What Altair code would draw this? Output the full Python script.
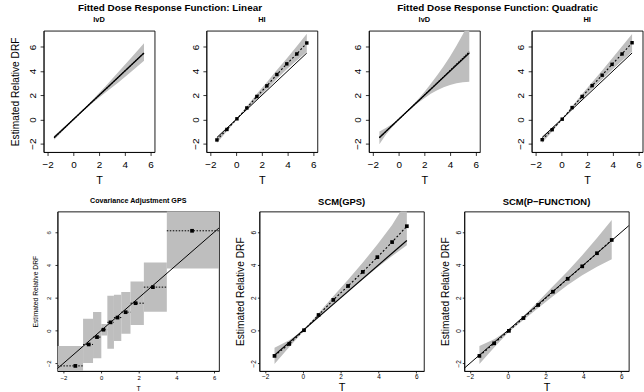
import altair as alt
import pandas as pd

FONT = "Liberation Sans"
GRAY = "#bebebe"
TICKS = [-2, 0, 2, 4, 6]

# ---------------- data ----------------
true_T = [-1.5, 5.5]
true_y = [-1.5, 5.5]
ab_T = [-3.0, 7.0]
ab_y = [-3.0, 7.0]

lin_ivd_T = [-1.5, -0.5, 0.5, 1.5, 2.5, 3.5, 4.5, 5.5]
lin_ivd_est = [-1.52, -0.51, 0.5, 1.5, 2.49, 3.49, 4.5, 5.5]
lin_ivd_lo = [-1.68, -0.6, 0.45, 1.38, 2.22, 3.05, 3.95, 4.85]
lin_ivd_hi = [-1.35, -0.42, 0.55, 1.62, 2.75, 3.92, 5.1, 6.3]

grid_T = [-1.5, -0.72, 0.06, 0.83, 1.61, 2.39, 3.17, 3.94, 4.72, 5.5]

lin_hi_est = [-1.7, -0.83, 0.05, 0.95, 1.9, 2.78, 3.72, 4.6, 5.42, 6.33]
lin_hi_lo = [-1.95, -0.98, 0.0, 0.82, 1.68, 2.5, 3.35, 4.15, 4.88, 5.6]
lin_hi_hi = [-1.45, -0.7, 0.1, 1.08, 2.12, 3.08, 4.1, 5.05, 6.05, 7.1]

quad_ivd_T = [-1.5, -1.0, -0.5, 0.0, 0.5, 1.0, 1.5, 2.0, 2.5, 3.0, 3.5, 4.0, 4.5, 5.0, 5.5]
quad_ivd_est = [-1.52, -1.0, -0.5, 0.0, 0.5, 1.0, 1.5, 2.0, 2.51, 3.02, 3.53, 4.05, 4.57, 5.08, 5.6]
quad_ivd_lo = [-2.05, -1.28, -0.62, -0.05, 0.46, 0.92, 1.35, 1.75, 2.12, 2.42, 2.67, 2.86, 3.0, 3.08, 3.12]
quad_ivd_hi = [-1.0, -0.72, -0.38, 0.05, 0.54, 1.08, 1.65, 2.28, 2.95, 3.65, 4.4, 5.2, 6.1, 7.05, 8.1]

quad_hi_est = [-1.68, -0.85, 0.02, 0.98, 1.9, 2.8, 3.66, 4.56, 5.42, 6.35]
quad_hi_lo = [-1.95, -1.0, -0.03, 0.86, 1.7, 2.52, 3.3, 4.1, 4.85, 5.6]
quad_hi_hi = [-1.4, -0.68, 0.08, 1.1, 2.1, 3.08, 4.05, 5.05, 6.05, 7.08]

ca_bin_lo = [-2.32, -0.96, -0.43, 0.01, 0.33, 0.68, 1.07, 1.56, 2.27, 3.49]
ca_bin_hi = [-0.96, -0.43, 0.01, 0.33, 0.68, 1.07, 1.56, 2.27, 3.49, 6.4]
ca_ci_lo = [-2.6, -1.98, -1.7, -0.3, -1.12, -0.64, -0.2, 0.34, 1.15, 3.79]
ca_ci_hi = [-0.95, 0.72, 1.13, 0.4, 2.12, 2.18, 2.36, 3.0, 4.16, 7.5]
ca_pt_T = [-1.37, -0.66, -0.22, 0.12, 0.5, 0.87, 1.3, 1.83, 2.75, 4.83]
ca_pt_y = [-2.16, -0.85, -0.4, 0.05, 0.5, 0.79, 1.12, 1.67, 2.65, 6.09]

scm_gps_est = [-1.55, -0.82, 0.02, 0.95, 1.87, 2.72, 3.58, 4.48, 5.4, 6.37]
scm_gps_lo = [-2.05, -1.0, -0.02, 0.85, 1.65, 2.4, 3.12, 3.85, 4.55, 5.2]
scm_gps_hi = [-1.05, -0.6, 0.06, 1.05, 2.1, 3.1, 4.15, 5.25, 6.45, 7.9]

scm_pf_est = [-1.55, -0.78, -0.02, 0.76, 1.56, 2.37, 3.16, 3.92, 4.72, 5.53]
scm_pf_lo = [-2.05, -1.03, -0.08, 0.65, 1.38, 2.1, 2.78, 3.38, 3.9, 4.35]
scm_pf_hi = [-0.95, -0.53, 0.05, 0.88, 1.78, 2.7, 3.62, 4.6, 5.65, 6.75]


# ---------------- helpers ----------------
def xaxis(lab, tick, lpad, tsize, tpad):
    return alt.Axis(values=TICKS, title="T", labelFontSize=lab, tickSize=tick,
                    labelPadding=lpad, titleFontSize=tsize, titlePadding=tpad,
                    titleFontWeight="normal", grid=False, labelFont=FONT,
                    titleFont=FONT, labelColor="black", titleColor="black",
                    tickColor="black", domainColor="black", tickWidth=0.8,
                    domainWidth=0.8, labelFlush=False, labelOverlap=False)


def yaxis(lab, tick, lpad, title, tsize, tpad):
    return alt.Axis(values=TICKS, title=title, labelFontSize=lab, tickSize=tick,
                    labelPadding=lpad, titleFontSize=tsize, titlePadding=tpad,
                    titleFontWeight="normal", grid=False, labelFont=FONT,
                    titleFont=FONT, labelColor="black", titleColor="black",
                    tickColor="black", domainColor="black", tickWidth=0.8,
                    domainWidth=0.8, labelAngle=270, labelAlign="center",
                    labelBaseline="bottom", labelFlush=False, labelOverlap=False)


def ptitle(text, size, offset, frame="group", dx=0):
    return alt.TitleParams(text, fontSize=size, fontWeight="bold", font=FONT,
                           color="black", offset=offset, frame=frame,
                           anchor="middle", dx=dx)


def curve_panel(band_T, lo, hi, est_T, est, xs, ys, ax, ay, dash, pts,
                pt_size, line_T, line_y, lw):
    X = lambda f: alt.X(f, type="quantitative", scale=xs, axis=ax)
    Y = lambda f: alt.Y(f, type="quantitative", scale=ys, axis=ay)
    band = alt.Chart(pd.DataFrame({"T": band_T, "lo": lo, "hi": hi})).mark_area(
        color=GRAY, opacity=1, clip=True).encode(x=X("T"), y=Y("lo"), y2="hi")
    truth = alt.Chart(pd.DataFrame({"T": line_T, "y": line_y})).mark_line(
        color="black", strokeWidth=lw, clip=True).encode(x=X("T"), y=Y("y"))
    estl = alt.Chart(pd.DataFrame({"T": est_T, "y": est})).mark_line(
        color="black", strokeWidth=1.1, strokeDash=dash, clip=True).encode(
        x=X("T"), y=Y("y"))
    layers = [band, truth, estl]
    if pts:
        layers.append(alt.Chart(pd.DataFrame({"T": est_T, "y": est})).mark_square(
            color="black", opacity=1, size=pt_size).encode(x=X("T"), y=Y("y")))
    return layers


def spacer(w, h):
    return alt.Chart(pd.DataFrame({"a": [0]})).mark_rect(opacity=0).encode(
        x=alt.value(0), x2=alt.value(1), y=alt.value(0), y2=alt.value(1)
    ).properties(width=w, height=h,
                 view=alt.ViewBackground(stroke="transparent"))


# ---------------- top row ----------------
TW, TH = 112, 122.5
tx = alt.Scale(domain=[-2.32, 6.32], nice=False, zero=False)
ty = alt.Scale(domain=[-2.7, 7.35], nice=False, zero=False)
tax = xaxis(10, 3.5, 4.4, 11, 4.9)
tay_title = yaxis(10, 3.5, 2.9, "Estimated Relative DRF", 10.3, 6.8)
tay = yaxis(10, 3.5, 2.9, None, 10.3, 6.8)

p1 = alt.layer(*curve_panel(lin_ivd_T, lin_ivd_lo, lin_ivd_hi, lin_ivd_T,
                            lin_ivd_est, tx, ty, tax, tay_title, [1.5, 1],
                            False, 10, true_T, true_y, 1.2)).properties(
    width=TW, height=TH, title=ptitle("IvD", 7.5, 7.5))
p2 = alt.layer(*curve_panel(grid_T, lin_hi_lo, lin_hi_hi, grid_T, lin_hi_est,
                            tx, ty, tax, tay, [2, 2], True, 12, true_T, true_y,
                            1.0)).properties(width=TW, height=TH,
                                             title=ptitle("HI", 7.5, 7.5))
p3 = alt.layer(*curve_panel(quad_ivd_T, quad_ivd_lo, quad_ivd_hi, quad_ivd_T,
                            quad_ivd_est, tx, ty, tax, tay, [1.5, 1], False, 10,
                            true_T, true_y, 1.2)).properties(
    width=TW, height=TH, title=ptitle("IvD", 7.5, 7.5))
p4 = alt.layer(*curve_panel(grid_T, quad_hi_lo, quad_hi_hi, grid_T, quad_hi_est,
                            tx, ty, tax, tay, [2, 2], True, 12, true_T, true_y,
                            1.0)).properties(width=TW, height=TH,
                                             title=ptitle("HI", 7.5, 7.5))

g1 = alt.hconcat(p1, p2, spacing=34.3,
                 title=ptitle("Fitted Dose Response Function: Linear", 10, 1.9,
                              frame="bounds", dx=6))
g2 = alt.hconcat(p3, p4, spacing=34.3,
                 title=ptitle("Fitted Dose Response Function: Quadratic", 10, 1.9,
                              frame="bounds"))
top = alt.hconcat(spacer(1, TH), alt.hconcat(g1, g2, spacing=34.3), spacing=7)

# ---------------- bottom row ----------------
BH = 161
by = alt.Scale(domain=[-2.47, 7.27], nice=False, zero=False)

cx = alt.Scale(domain=[-2.32, 6.26], nice=False, zero=False)
cax = xaxis(6, 2, 1.1, 7, 5)
cay = yaxis(6, 2.5, 3.4, "Estimated Relative DRF", 6.8, 7.3)
CX = lambda f: alt.X(f, type="quantitative", scale=cx, axis=cax)
CY = lambda f: alt.Y(f, type="quantitative", scale=by, axis=cay)
ca_df = pd.DataFrame({"b0": ca_bin_lo, "b1": ca_bin_hi, "c0": ca_ci_lo,
                      "c1": ca_ci_hi, "T": ca_pt_T, "y": ca_pt_y})
ca_boxes = alt.Chart(ca_df).mark_rect(color=GRAY, opacity=1, clip=True).encode(
    x=CX("b0"), x2="b1", y=CY("c0"), y2="c1")
ca_line = alt.Chart(pd.DataFrame({"T": ab_T, "y": ab_y})).mark_line(
    color="black", strokeWidth=1.0, clip=True).encode(x=CX("T"), y=CY("y"))
ca_bars = alt.Chart(ca_df).mark_rule(color="black", strokeWidth=1.0,
                                     strokeDash=[1.5, 1.5], clip=True).encode(
    x=CX("b0"), x2="b1", y=CY("y"))
ca_pts = alt.Chart(ca_df).mark_square(color="black", opacity=1, size=14).encode(
    x=CX("T"), y=CY("y"))
p5 = alt.layer(ca_boxes, ca_line, ca_bars, ca_pts).properties(
    width=163, height=BH, title=ptitle("Covariance Adjustment GPS", 7.2, 7.5))

sx = alt.Scale(domain=[-2.3, 6.4], nice=False, zero=False)
sax = xaxis(6.5, 2, 1, 11, 0.9)
say = yaxis(6.5, 2, 0.5, "Estimated Relative DRF", 10.3, 5.9)
p6 = alt.layer(*curve_panel(grid_T, scm_gps_lo, scm_gps_hi, grid_T, scm_gps_est,
                            sx, by, sax, say, [2, 2], True, 14, true_T, true_y,
                            1.2)).properties(width=166, height=BH,
                                             title=ptitle("SCM(GPS)", 9.5, 5.2))
p7 = alt.layer(*curve_panel(grid_T, scm_pf_lo, scm_pf_hi, grid_T, scm_pf_est,
                            sx, by, sax, say, [2, 2], True, 14, ab_T, ab_y,
                            1.0)).properties(width=166, height=BH,
                                             title=ptitle("SCM(P\u2212FUNCTION)", 9.5, 5.2))

bottom = alt.hconcat(spacer(1, BH), alt.hconcat(p5, p6, p7, spacing=14.8),
                     spacing=29)

chart = alt.vconcat(top, bottom, spacing=9.5).properties(
    padding={"left": 0, "top": 1.1, "right": 0, "bottom": 0},
    background="white",
).configure_view(stroke="black", strokeWidth=0.9)

chart.save("out.html", embed_options={"renderer": "svg", "actions": False})
